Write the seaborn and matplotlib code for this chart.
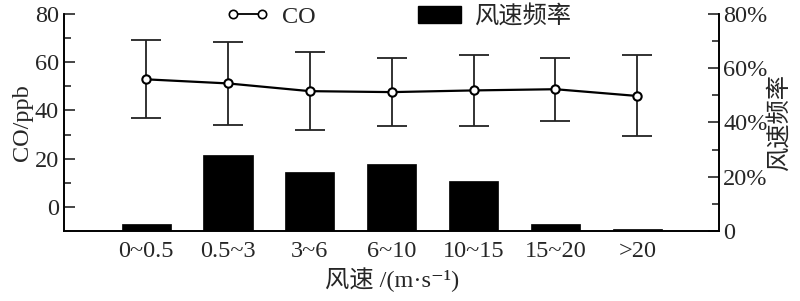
import numpy as np
import pandas as pd
import matplotlib
matplotlib.use("Agg")
import matplotlib.pyplot as plt
import seaborn as sns
from matplotlib.ticker import MultipleLocator, FixedLocator, FixedFormatter
from matplotlib.lines import Line2D
from matplotlib.patches import Patch

# ---- data ----
categories = ["0~0.5", "0.5~3", "3~6", "6~10", "10~15", "15~20", ">20"]
co_mean = [52.9, 51.2, 48.0, 47.6, 48.3, 48.8, 46.0]
co_err = [16.2, 17.2, 16.1, 14.2, 14.6, 13.0, 16.8]
wind_freq = [2.6, 28.0, 21.9, 24.6, 18.6, 2.6, 0.8]
left_ticks = [0, 20, 40, 60, 80]
right_ticks = [0, 20, 40, 60, 80]
right_tick_labels = ["0", "20%", "40%", "60%", "80%"]

sns.set_theme(style="white")
plt.rcParams["font.family"] = ["Liberation Serif", "Noto Sans CJK SC", "DejaVu Sans"]

FS = 17.5
fig = plt.figure(figsize=(8, 3.01), dpi=100)
ax = fig.add_axes([0.0804, 0.2326, 0.8185, 0.7209])
ax2 = ax.twinx()

df_bar = pd.DataFrame({"cat": categories, "freq": wind_freq})
sns.barplot(data=df_bar, x="cat", y="freq", ax=ax2, color="black",
            saturation=1, width=0.6, edgecolor="black", linewidth=0.5)

x = np.arange(len(categories))
df_line = pd.DataFrame({"x": x, "co": co_mean})
ax.errorbar(x, co_mean, yerr=co_err, fmt="none", ecolor="#222222",
            elinewidth=1.3, capsize=11, capthick=1.3, zorder=3)
sns.lineplot(data=df_line, x="x", y="co", ax=ax, color="black", linewidth=1.6,
             marker="o", markersize=6, markerfacecolor="white",
             markeredgecolor="black", markeredgewidth=1.5, zorder=4)

ax.set_zorder(ax2.get_zorder() + 1)
ax.patch.set_visible(False)

ax.set_xlim(-1, 7)
ax.set_ylim(-10, 80)
ax2.set_ylim(0, 80)

ax.set_xticks(x)
ax.set_xticklabels(categories, fontsize=FS)
ax.tick_params(axis="x", length=0, pad=7)
ax2.tick_params(axis="x", length=0)

ax.yaxis.set_major_locator(FixedLocator(left_ticks))
ax.yaxis.set_minor_locator(MultipleLocator(10))
ax.tick_params(axis="y", which="major", direction="in", length=8, width=1.2,
               labelsize=FS, pad=4, left=True)
ax.tick_params(axis="y", which="minor", direction="in", length=5, width=1.2, left=True)

ax2.yaxis.set_major_locator(FixedLocator(right_ticks))
ax2.yaxis.set_major_formatter(FixedFormatter(right_tick_labels))
ax2.yaxis.set_minor_locator(MultipleLocator(10))
ax2.tick_params(axis="y", which="major", direction="in", length=8, width=1.2,
                labelsize=FS, pad=3, right=True)
ax2.tick_params(axis="y", which="minor", direction="in", length=5, width=1.2, right=True)

for a in (ax, ax2):
    a.spines["top"].set_visible(False)
    for s in ("left", "right", "bottom"):
        a.spines[s].set_color("black")
        a.spines[s].set_linewidth(1.2)

ax.set_xlabel("风速 /(m·s⁻¹)", fontsize=FS, labelpad=4)
ax.set_ylabel("CO/ppb", fontsize=FS, labelpad=1)
ax2.set_ylabel("风速频率", fontsize=FS, labelpad=0)
ax2.set_xlabel("")

handles = [
    Line2D([0], [0], color="black", linewidth=1.3, marker="o", markersize=6,
           markerfacecolor="white", markeredgecolor="black", markeredgewidth=1.2),
    Patch(facecolor="black", edgecolor="black"),
]
leg = ax.legend(handles, ["CO", "风速频率"], loc="center", bbox_to_anchor=(0.51, 0.99),
                ncol=2, frameon=False, fontsize=FS, numpoints=2, handlelength=1.8,
                columnspacing=4.2, handletextpad=0.5)

fig.savefig("out.png", dpi=100)
